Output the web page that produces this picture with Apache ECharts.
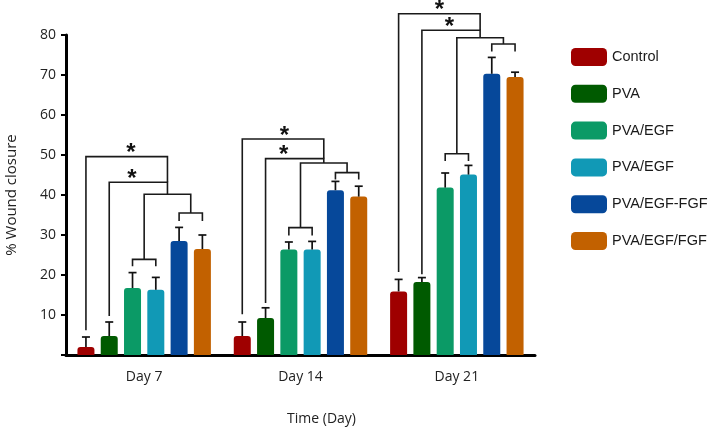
<!DOCTYPE html>
<html>
<head>
<meta charset="utf-8">
<script src="https://cdn.jsdelivr.net/npm/echarts@6/dist/echarts.min.js"></script>
<style>html,body{margin:0;padding:0;background:#fff}#c{width:710px;height:428px}</style>
</head>
<body>
<div id="c"></div>
<script>
// ---- data ----
var days = ['Day 7', 'Day 14', 'Day 21'];
var groupNames = ['Control', 'PVA', 'PVA/EGF', 'PVA/EGF ', 'PVA/EGF-FGF', 'PVA/EGF/FGF'];
var control    = [2.0, 4.75, 15.9];
var pva        = [4.75, 9.25, 18.25];
var pvaEgf     = [16.75, 26.4, 41.85];
var pvaEgf2    = [16.3, 26.4, 45.1];
var pvaEgfFgf  = [28.5, 41.2, 70.3];
var pvaEgfFgf2 = [26.5, 39.6, 69.5];
var errControl    = [2.5, 3.5, 3.0];
var errPva        = [3.5, 2.55, 1.1];
var errPvaEgf     = [3.85, 1.85, 3.65];
var errPvaEgf2    = [3.1, 2.0, 2.3];
var errPvaEgfFgf  = [3.4, 2.2, 4.1];
var errPvaEgfFgf2 = [3.5, 2.6, 1.2];
var yTicks = [0, 10, 20, 30, 40, 50, 60, 70, 80];
// significance brackets: [dayIndex, leftBar, rightBar, level, leftLegBottom, rightLegBottom]
var brackets = [
  [0, 2, 3, 23.9, 22.2, 22.2], [0, 4, 5, 35.5, 33.5, 33.5], [0, 2.5, 4.5, 40.2, 23.9, 35.5],
  [0, 1, 3.5, 43.2, 9.75, 40.2], [0, 0, 3.5, 49.6, 6.2, 43.2],
  [1, 2, 3, 31.85, 29.9, 29.9], [1, 4, 5, 45.6, 43.9, 43.9], [1, 2.5, 4.5, 48.0, 31.85, 45.6],
  [1, 1, 3.5, 49.1, 13.0, 48.0], [1, 0, 3.5, 54.0, 10.2, 49.1],
  [2, 2, 3, 50.3, 48.5, 48.5], [2, 4, 5, 77.75, 75.9, 75.9], [2, 2.5, 4.5, 79.3, 50.3, 77.75],
  [2, 1, 3.5, 81.2, 20.2, 79.3], [2, 0, 3.5, 85.3, 20.75, 81.2]
];
// asterisks: [dayIndex, barPosition, level]
var stars = [
  [0, 1.93, 49.6], [0, 1.97, 43.2],
  [1, 1.81, 54.0], [1, 1.78, 49.1],
  [2, 1.75, 85.3], [2, 2.18, 81.2]
];

var values = [control, pva, pvaEgf, pvaEgf2, pvaEgfFgf, pvaEgfFgf2];
var errs = [errControl, errPva, errPvaEgf, errPvaEgf2, errPvaEgfFgf, errPvaEgfFgf2];
var colors = ['#9f0000', '#005a00', '#0b9a66', '#1199b6', '#06489a', '#c26100'];

var BAR_W = 17, GAP = 0.37, PITCH = BAR_W * (1 + GAP);
function barX(api, c, u) { return api.coord([c, 0])[0] + (u - 2.5) * PITCH; }

var errData = [];
values.forEach(function (arr, s) {
  arr.forEach(function (v, c) { errData.push([c, s, v, v + errs[s][c]]); });
});

var series = groupNames.map(function (n, s) {
  return {
    name: n, type: 'bar', data: values[s], barWidth: BAR_W, barGap: (GAP * 100) + '%',
    itemStyle: { color: colors[s], borderRadius: [3, 3, 0, 0] }
  };
});
series.push({
  type: 'custom', data: errData, encode: { x: 0, y: 3 }, z: 3, silent: true,
  renderItem: function (p, api) {
    var c = api.value(0), s = api.value(1), v = api.value(2), t = api.value(3);
    var x = barX(api, c, s), y0 = api.coord([c, v])[1], y1 = api.coord([c, t])[1];
    var st = { stroke: '#111', lineWidth: 1.7 };
    return { type: 'group', children: [
      { type: 'line', shape: { x1: x, y1: y0, x2: x, y2: y1 }, style: st },
      { type: 'line', shape: { x1: x - 4, y1: y1, x2: x + 4, y2: y1 }, style: st }
    ] };
  }
});
series.push({
  type: 'custom', data: brackets, encode: { x: 0, y: 3 }, z: 3, silent: true, clip: false,
  renderItem: function (p, api) {
    var c = api.value(0);
    var xl = barX(api, c, api.value(1)), xr = barX(api, c, api.value(2));
    var y = api.coord([c, api.value(3)])[1];
    var bl = api.coord([c, api.value(4)])[1], br = api.coord([c, api.value(5)])[1];
    return { type: 'polyline', shape: { points: [[xl, bl], [xl, y], [xr, y], [xr, br]] },
      style: { stroke: '#1a1a1a', lineWidth: 1.6, fill: null } };
  }
});
series.push({
  type: 'custom', data: stars, encode: { x: 0, y: 2 }, z: 4, silent: true, clip: false,
  renderItem: function (p, api) {
    var c = api.value(0);
    var x = barX(api, c, api.value(1));
    var y = api.coord([c, api.value(2)])[1];
    return { type: 'text', style: { text: '*', x: x, y: y + 9, align: 'center', verticalAlign: 'bottom',
      font: 'bold 24px "Liberation Sans", Arial, sans-serif', fill: '#111' } };
  }
});

var chart = echarts.init(document.getElementById('c'), null, { renderer: 'canvas' });
chart.setOption({
  animation: false,
  color: colors,
  grid: { left: 66, right: 175, top: 35, bottom: 73, containLabel: false, outerBoundsMode: 'none' },
  legend: {
    orient: 'vertical', left: 566, top: 43, itemWidth: 36, itemHeight: 18, itemGap: 18.8,
    icon: 'roundRect', data: groupNames,
    formatter: function (n) { return n.trim(); },
    textStyle: { fontFamily: '"Liberation Sans", Arial, sans-serif', fontSize: 14.5, color: '#1a1a1a' }
  },
  xAxis: {
    type: 'category', data: days,
    axisLine: { lineStyle: { color: '#000', width: 3 } },
    axisTick: { alignWithLabel: true, length: 7, lineStyle: { color: '#000', width: 2.5 } },
    axisLabel: { fontFamily: '"Open Sans", sans-serif', fontSize: 14, color: '#222', margin: 15 },
    name: 'Time (Day)', nameLocation: 'middle', nameGap: 57,
    nameTextStyle: { fontFamily: '"Open Sans", sans-serif', fontSize: 14, color: '#222', padding: [0, 0, 0, 42] }
  },
  yAxis: {
    type: 'value', min: yTicks[0], max: yTicks[yTicks.length - 1], interval: yTicks[1] - yTicks[0],
    splitLine: { show: false },
    axisLine: { show: true, lineStyle: { color: '#000', width: 3 } },
    axisTick: { show: true, length: 5, lineStyle: { color: '#000', width: 2 } },
    axisLabel: { fontFamily: '"Open Sans", sans-serif', fontSize: 14, color: '#222', margin: 10,
      formatter: function (v) { return v === 0 ? '' : v; } },
    name: '% Wound closure', nameLocation: 'middle', nameGap: 47,
    nameTextStyle: { fontFamily: '"Open Sans", sans-serif', fontSize: 15, color: '#222' }
  },
  series: series
});
</script>
</body>
</html>
